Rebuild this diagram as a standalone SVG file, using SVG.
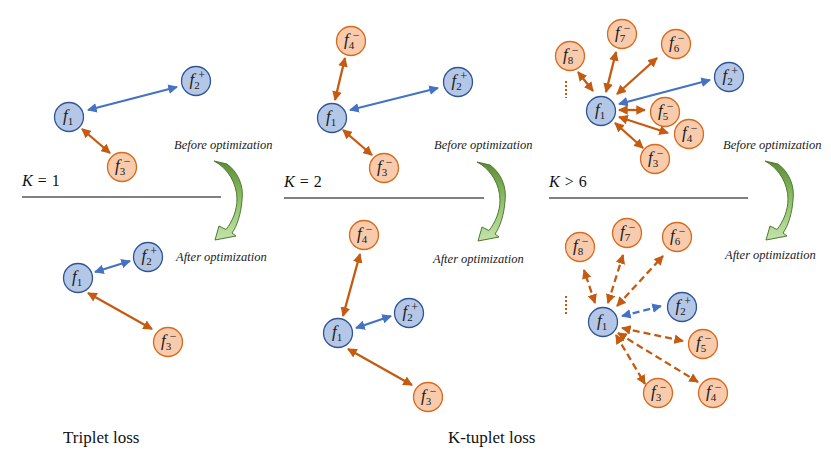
<svg xmlns="http://www.w3.org/2000/svg" width="831" height="455" viewBox="0 0 831 455">
<style>
.pos{fill:#b4c7e7;stroke:#2f5597;stroke-width:1.3}
.neg{fill:#f8cbad;stroke:#d9691c;stroke-width:1.3}
text{font-family:"Liberation Serif","Times New Roman","DejaVu Serif",serif}
.lbl{font-style:italic;font-size:17px;fill:#1a1a1a}
.sub{font-size:11px;font-style:normal}
.sup{font-size:12px;font-style:normal}
.ab{stroke:#4472c4;stroke-width:2.3;fill:none;marker-start:url(#hb);marker-end:url(#hb)}
.ao{stroke:#c55a11;stroke-width:2.3;fill:none;marker-start:url(#ho);marker-end:url(#ho)}
.dash{stroke-dasharray:7 4}
.note{font-style:italic;font-size:12.5px;fill:#222}
.kt{font-size:16px;fill:#111;word-spacing:1px}
.sep{stroke:#808080;stroke-width:1.8}
.cap{font-size:17px;fill:#111}
.dots{stroke:#c55a11;stroke-width:2;stroke-dasharray:2 2}
</style>
<defs>
<marker id="hb" viewBox="0 0 10 10" refX="9" refY="5" markerWidth="4.2" markerHeight="4.2" orient="auto-start-reverse" markerUnits="strokeWidth"><path d="M0,0 L10,5 L0,10 z" fill="#4472c4"/></marker>
<marker id="ho" viewBox="0 0 10 10" refX="9" refY="5" markerWidth="4.2" markerHeight="4.2" orient="auto-start-reverse" markerUnits="strokeWidth"><path d="M0,0 L10,5 L0,10 z" fill="#c55a11"/></marker>
<linearGradient id="gg" x1="0" y1="0" x2="0" y2="1">
<stop offset="0" stop-color="#5b8c35"/><stop offset="0.5" stop-color="#8fc06a"/><stop offset="1" stop-color="#c5e3ad"/>
</linearGradient>
<path id="curve" d="M214,161 L227,164 C238,172 244,186 242,200 C241,214 237,226 232,233 L236,236 L215,240 L219,226 L226,229.5 C232,222 237,211 237,199 C237,184 228,168 214,161 Z" fill="url(#gg)" stroke="#4e7a2e" stroke-width="1"/>
</defs>

<g id="connectors">
<line class="ab" x1="88" y1="110" x2="177" y2="87"/>
<line class="ao" x1="82" y1="129" x2="110" y2="153"/>
<line class="ab" x1="95" y1="272" x2="130" y2="261"/>
<line class="ao" x1="88" y1="293" x2="152" y2="329"/>
<line class="ao" x1="335" y1="100" x2="345" y2="58"/>
<line class="ab" x1="350" y1="110" x2="438" y2="88"/>
<line class="ao" x1="343" y1="130" x2="372" y2="155"/>
<line class="ao" x1="343" y1="316" x2="360" y2="254"/>
<line class="ab" x1="356" y1="328" x2="391" y2="316"/>
<line class="ao" x1="348" y1="349" x2="412" y2="385"/>
<line class="ao" x1="593" y1="91" x2="578" y2="72"/>
<line class="ao" x1="606" y1="92" x2="616" y2="52"/>
<line class="ao" x1="617" y1="94" x2="657" y2="58"/>
<line class="ab" x1="619" y1="104" x2="710" y2="80"/>
<line class="ao" x1="619" y1="110" x2="645" y2="110"/>
<line class="ao" x1="619" y1="117" x2="668" y2="133"/>
<line class="ao" x1="615" y1="123" x2="643" y2="148"/>
<line class="dots" x1="566" y1="81" x2="566" y2="98"/>
<line class="ao dash" x1="595" y1="303" x2="584" y2="270"/>
<line class="ao dash" x1="608" y1="303" x2="623" y2="255"/>
<line class="ao dash" x1="617" y1="306" x2="663" y2="256"/>
<line class="ab dash" x1="622" y1="316" x2="661" y2="306"/>
<line class="ao dash" x1="622" y1="328" x2="683" y2="341"/>
<line class="ao dash" x1="618" y1="333" x2="698" y2="382"/>
<line class="ao dash" x1="616" y1="335" x2="645" y2="384"/>
<line class="dots" x1="566" y1="296" x2="566" y2="316"/>
<use href="#curve"/>
<use href="#curve" transform="translate(263,1)"/>
<use href="#curve" transform="translate(551,0)"/>
</g>

<g id="p1t_f1"><circle class="pos" cx="69" cy="117" r="14.5"/><text class="lbl" x="63" y="121">f<tspan class="sub" dy="3.5">1</tspan></text></g>
<g id="p1t_f2"><circle class="pos" cx="196" cy="81" r="14.5"/><text class="lbl" x="189.5" y="85">f<tspan class="sub" dy="3.5">2</tspan><tspan class="sup" dx="-1.5" dy="-10">+</tspan></text></g>
<g id="p1t_f3"><circle class="neg" cx="122" cy="167" r="14.5"/><text class="lbl" x="115" y="171">f<tspan class="sub" dy="3.5">3</tspan><tspan class="sup" dx="-1.5" dy="-10">−</tspan></text></g>

<g id="p1b_f1"><circle class="pos" cx="78" cy="278" r="14.5"/><text class="lbl" x="72" y="282">f<tspan class="sub" dy="3.5">1</tspan></text></g>
<g id="p1b_f2"><circle class="pos" cx="148" cy="257" r="14.5"/><text class="lbl" x="141.5" y="261">f<tspan class="sub" dy="3.5">2</tspan><tspan class="sup" dx="-1.5" dy="-10">+</tspan></text></g>
<g id="p1b_f3"><circle class="neg" cx="168" cy="342" r="14.5"/><text class="lbl" x="161" y="346">f<tspan class="sub" dy="3.5">3</tspan><tspan class="sup" dx="-1.5" dy="-10">−</tspan></text></g>

<g id="p2t_f4"><circle class="neg" cx="351" cy="41" r="14.5"/><text class="lbl" x="344" y="45">f<tspan class="sub" dy="3.5">4</tspan><tspan class="sup" dx="-1.5" dy="-10">−</tspan></text></g>
<g id="p2t_f2"><circle class="pos" cx="458" cy="82" r="14.5"/><text class="lbl" x="451.5" y="86">f<tspan class="sub" dy="3.5">2</tspan><tspan class="sup" dx="-1.5" dy="-10">+</tspan></text></g>
<g id="p2t_f1"><circle class="pos" cx="332" cy="118" r="14.5"/><text class="lbl" x="326" y="122">f<tspan class="sub" dy="3.5">1</tspan></text></g>
<g id="p2t_f3"><circle class="neg" cx="384" cy="168" r="14.5"/><text class="lbl" x="377" y="172">f<tspan class="sub" dy="3.5">3</tspan><tspan class="sup" dx="-1.5" dy="-10">−</tspan></text></g>

<g id="p2b_f4"><circle class="neg" cx="364" cy="235" r="14.5"/><text class="lbl" x="357" y="239">f<tspan class="sub" dy="3.5">4</tspan><tspan class="sup" dx="-1.5" dy="-10">−</tspan></text></g>
<g id="p2b_f2"><circle class="pos" cx="409" cy="313" r="14.5"/><text class="lbl" x="402.5" y="317">f<tspan class="sub" dy="3.5">2</tspan><tspan class="sup" dx="-1.5" dy="-10">+</tspan></text></g>
<g id="p2b_f1"><circle class="pos" cx="338" cy="333" r="14.5"/><text class="lbl" x="332" y="337">f<tspan class="sub" dy="3.5">1</tspan></text></g>
<g id="p2b_f3"><circle class="neg" cx="428" cy="397" r="14.5"/><text class="lbl" x="421" y="401">f<tspan class="sub" dy="3.5">3</tspan><tspan class="sup" dx="-1.5" dy="-10">−</tspan></text></g>

<g id="p3t_f8"><circle class="neg" cx="570" cy="56" r="14.5"/><text class="lbl" x="563" y="60">f<tspan class="sub" dy="3.5">8</tspan><tspan class="sup" dx="-1.5" dy="-10">−</tspan></text></g>
<g id="p3t_f7"><circle class="neg" cx="622" cy="34" r="14.5"/><text class="lbl" x="615" y="38">f<tspan class="sub" dy="3.5">7</tspan><tspan class="sup" dx="-1.5" dy="-10">−</tspan></text></g>
<g id="p3t_f6"><circle class="neg" cx="676" cy="44" r="14.5"/><text class="lbl" x="669" y="48">f<tspan class="sub" dy="3.5">6</tspan><tspan class="sup" dx="-1.5" dy="-10">−</tspan></text></g>
<g id="p3t_f2"><circle class="pos" cx="729" cy="77" r="14.5"/><text class="lbl" x="722.5" y="81">f<tspan class="sub" dy="3.5">2</tspan><tspan class="sup" dx="-1.5" dy="-10">+</tspan></text></g>
<g id="p3t_f1"><circle class="pos" cx="601" cy="111" r="14.5"/><text class="lbl" x="595" y="115">f<tspan class="sub" dy="3.5">1</tspan></text></g>
<g id="p3t_f5"><circle class="neg" cx="665" cy="112" r="14.5"/><text class="lbl" x="658" y="116">f<tspan class="sub" dy="3.5">5</tspan><tspan class="sup" dx="-1.5" dy="-10">−</tspan></text></g>
<g id="p3t_f4"><circle class="neg" cx="689" cy="134" r="14.5"/><text class="lbl" x="682" y="138">f<tspan class="sub" dy="3.5">4</tspan><tspan class="sup" dx="-1.5" dy="-10">−</tspan></text></g>
<g id="p3t_f3"><circle class="neg" cx="655" cy="159" r="14.5"/><text class="lbl" x="648" y="163">f<tspan class="sub" dy="3.5">3</tspan><tspan class="sup" dx="-1.5" dy="-10">−</tspan></text></g>

<g id="p3b_f8"><circle class="neg" cx="580" cy="247" r="14.5"/><text class="lbl" x="573" y="251">f<tspan class="sub" dy="3.5">8</tspan><tspan class="sup" dx="-1.5" dy="-10">−</tspan></text></g>
<g id="p3b_f7"><circle class="neg" cx="627" cy="233" r="14.5"/><text class="lbl" x="620" y="237">f<tspan class="sub" dy="3.5">7</tspan><tspan class="sup" dx="-1.5" dy="-10">−</tspan></text></g>
<g id="p3b_f6"><circle class="neg" cx="677" cy="237" r="14.5"/><text class="lbl" x="670" y="241">f<tspan class="sub" dy="3.5">6</tspan><tspan class="sup" dx="-1.5" dy="-10">−</tspan></text></g>
<g id="p3b_f2"><circle class="pos" cx="682" cy="307" r="14.5"/><text class="lbl" x="675.5" y="311">f<tspan class="sub" dy="3.5">2</tspan><tspan class="sup" dx="-1.5" dy="-10">+</tspan></text></g>
<g id="p3b_f1"><circle class="pos" cx="603" cy="322" r="14.5"/><text class="lbl" x="597" y="326">f<tspan class="sub" dy="3.5">1</tspan></text></g>
<g id="p3b_f5"><circle class="neg" cx="703" cy="344" r="14.5"/><text class="lbl" x="696" y="348">f<tspan class="sub" dy="3.5">5</tspan><tspan class="sup" dx="-1.5" dy="-10">−</tspan></text></g>
<g id="p3b_f3"><circle class="neg" cx="658" cy="393" r="14.5"/><text class="lbl" x="651" y="397">f<tspan class="sub" dy="3.5">3</tspan><tspan class="sup" dx="-1.5" dy="-10">−</tspan></text></g>
<g id="p3b_f4"><circle class="neg" cx="713" cy="393" r="14.5"/><text class="lbl" x="706" y="397">f<tspan class="sub" dy="3.5">4</tspan><tspan class="sup" dx="-1.5" dy="-10">−</tspan></text></g>

<g id="labels">
<text class="note" x="174" y="149">Before optimization</text>
<text class="note" x="434" y="149">Before optimization</text>
<text class="note" x="723" y="149">Before optimization</text>
<text class="note" x="176" y="261">After optimization</text>
<text class="note" x="433" y="263">After optimization</text>
<text class="note" x="725" y="259">After optimization</text>
<text class="kt" x="22" y="186"><tspan font-style="italic">K</tspan> = 1</text>
<text class="kt" x="284" y="187"><tspan font-style="italic">K</tspan> = 2</text>
<text class="kt" x="549" y="187"><tspan font-style="italic">K</tspan> &gt; 6</text>
<line class="sep" x1="22" y1="197" x2="221" y2="197"/>
<line class="sep" x1="284" y1="198" x2="484" y2="198"/>
<line class="sep" x1="549" y1="198" x2="748" y2="198"/>
<text class="cap" x="63" y="443">Triplet loss</text>
<text class="cap" x="448" y="443">K-tuplet loss</text>
</g>
</svg>
